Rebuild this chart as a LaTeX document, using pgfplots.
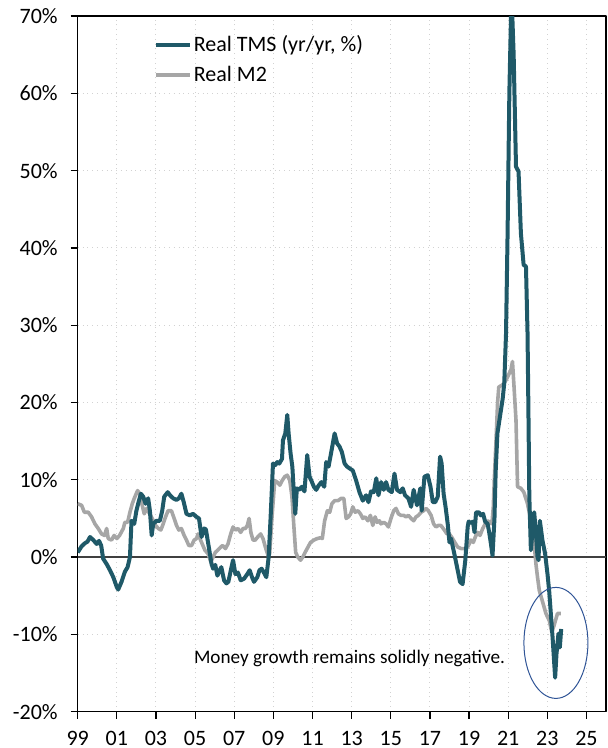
\documentclass[border=0pt]{standalone}
\usepackage{pgfplots}
\pgfplotsset{compat=1.18}
\usepackage{fontspec}
\setmainfont{Carlito}
\definecolor{tms}{RGB}{31,89,104}
\definecolor{mtwo}{RGB}{166,166,166}
\definecolor{ell}{RGB}{47,84,150}
\definecolor{gridc}{RGB}{210,210,210}
\begin{document}
\begin{tikzpicture}
\useasboundingbox (-38.85pt,-18.15pt) rectangle (264.65pt,355.85pt);
\begin{axis}[
  at={(0pt,0pt)}, anchor=south west,
  scale only axis, width=264.15pt, height=347.85pt,
  xmin=1999, xmax=2026, ymin=-20, ymax=70,
  xtick={1999,2001,...,2025},
  xticklabels={99,01,03,05,07,09,11,13,15,17,19,21,23,25},
  ytick={-20,-10,...,70},
  yticklabels={-20\%,-10\%,0\%,10\%,20\%,30\%,40\%,50\%,60\%,70\%},
  tick pos=left, tick align=outside,
  major tick length=3.5pt,
  tick style={black, line width=0.6pt},
  axis line style={black, line width=0.6pt},
  ticklabel style={font=\fontsize{11}{13}\selectfont},
  yticklabel style={xshift=-3pt},
  xticklabel style={inner sep=0pt, yshift=-6pt},
  grid=major,
  major grid style={gridc, dotted, line width=0.5pt},
  extra y ticks={0},
  extra y tick labels={},
  extra y tick style={grid=major, major grid style={black!75, solid, line width=0.8pt}, major tick length=0pt},
  legend cell align=left,
  legend style={draw=none, fill=none, at={(0.1435,0.975)}, anchor=north west,
    font=\fontsize{11}{13}\selectfont, inner sep=0pt, row sep=3.5pt,
    nodes={inner sep=1pt}},
  legend image code/.code={\draw[#1, line width=2pt] (0pt,0pt) -- (17pt,0pt);},
  line join=round,
]
\addplot[mtwo, line width=1.8pt, forget plot] coordinates {
(1999.0,6.9)(1999.2,6.7)(1999.34,5.8)(1999.54,5.8)(1999.71,5.2)(1999.88,4.3)
(2000.05,3.7)(2000.22,3.0)(2000.37,2.8)(2000.48,3.7)(2000.56,2.4)(2000.73,2.2)(2000.86,2.8)
(2001.0,2.4)(2001.14,2.8)(2001.33,3.7)(2001.41,4.5)(2001.55,4.5)(2001.67,5.8)(2001.79,6.9)(2001.89,7.6)
(2002.06,8.6)(2002.17,8.2)(2002.26,7.1)(2002.4,5.6)(2002.52,6.3)(2002.63,5.8)(2002.73,5.4)(2002.86,4.7)(2002.98,4.1)
(2003.12,3.7)(2003.25,3.5)(2003.37,4.3)(2003.49,5.2)(2003.62,6.0)(2003.79,6.0)(2003.93,5.0)
(2004.05,4.1)(2004.17,3.5)(2004.3,3.7)(2004.44,2.8)(2004.56,2.2)(2004.68,1.5)(2004.82,1.5)(2004.95,2.2)
(2005.07,2.4)(2005.15,3.0)(2005.33,1.9)(2005.5,0.9)(2005.67,0.4)(2005.8,-0.6)(2005.92,0.0)
(2006.03,0.6)(2006.16,0.9)(2006.31,1.3)(2006.41,1.5)(2006.55,1.1)(2006.68,1.7)(2006.82,3.0)(2006.94,3.9)
(2007.06,3.5)(2007.19,3.7)(2007.33,3.2)(2007.45,3.7)(2007.57,3.7)(2007.67,4.1)(2007.76,5.0)(2007.85,3.2)(2007.96,2.2)
(2008.07,2.2)(2008.2,2.6)(2008.35,3.0)(2008.47,2.4)(2008.59,1.3)(2008.73,0.2)(2008.81,0.4)(2008.93,5.2)
(2009.07,9.9)(2009.2,9.7)(2009.33,9.3)(2009.45,9.9)(2009.58,10.4)(2009.71,10.6)(2009.84,9.9)(2009.95,7.8)
(2010.05,3.9)(2010.14,0.6)(2010.25,0.0)(2010.39,-0.4)(2010.5,0.0)(2010.62,0.6)(2010.77,1.3)(2010.9,1.9)
(2011.07,2.2)(2011.24,2.4)(2011.41,2.5)(2011.5,2.4)(2011.62,4.7)(2011.76,6.0)(2011.88,5.8)(2011.99,6.9)
(2012.13,7.3)(2012.3,7.3)(2012.47,7.6)(2012.6,7.6)(2012.72,5.0)(2012.84,5.2)(2012.95,5.6)
(2013.06,6.5)(2013.18,5.8)(2013.32,6.0)(2013.45,5.6)(2013.57,5.0)(2013.69,5.2)(2013.83,4.7)(2013.96,5.4)
(2014.08,4.1)(2014.2,5.2)(2014.3,4.5)(2014.42,4.7)(2014.5,4.3)(2014.64,4.5)(2014.76,4.3)(2014.88,3.9)
(2015.01,5.0)(2015.15,6.0)(2015.27,6.3)(2015.39,5.6)(2015.52,5.4)(2015.66,5.4)(2015.78,5.2)(2015.9,5.4)
(2016.04,5.0)(2016.17,4.7)(2016.29,5.2)(2016.41,5.4)(2016.55,5.8)(2016.68,6.0)(2016.8,6.3)(2016.92,6.0)
(2017.06,5.4)(2017.19,4.3)(2017.31,3.9)(2017.43,4.1)(2017.56,4.1)(2017.74,3.5)(2017.87,3.0)(2017.99,3.0)
(2018.11,2.6)(2018.25,2.0)(2018.42,1.3)(2018.6,1.1)(2018.77,1.1)(2018.93,1.3)
(2019.1,2.2)(2019.22,1.9)(2019.32,2.6)(2019.44,3.2)(2019.56,2.8)(2019.7,3.7)(2019.83,4.3)(2019.95,4.7)
(2020.07,4.5)(2020.17,4.3)(2020.24,6.5)(2020.29,9.9)(2020.38,15.1)(2020.46,20.0)(2020.52,22.0)(2020.72,22.3)(2020.89,22.9)
(2021.14,24.2)(2021.22,25.3)(2021.3,22.0)(2021.4,17.7)(2021.48,9.1)(2021.65,8.9)(2021.8,8.4)(2021.99,6.9)
(2022.16,4.7)(2022.33,1.7)(2022.42,-0.9)(2022.5,-2.6)(2022.59,-4.3)(2022.76,-5.8)(2022.93,-7.3)
(2023.1,-8.2)(2023.23,-9.7)(2023.35,-8.8)(2023.52,-7.3)(2023.69,-7.3)
};
\addplot[tms, line width=2pt] coordinates {
(1999.0,0.6)(1999.2,1.4)(1999.37,1.8)(1999.5,2.0)(1999.63,2.6)(1999.8,2.2)(1999.97,1.7)
(2000.09,2.1)(2000.2,1.5)(2000.3,-0.2)(2000.48,-0.9)(2000.65,-1.7)(2000.82,-2.6)
(2001.0,-3.9)(2001.07,-4.2)(2001.24,-3.2)(2001.41,-1.9)(2001.55,-1.3)(2001.67,0.0)(2001.75,4.7)(2001.89,4.3)
(2002.0,6.0)(2002.13,7.3)(2002.23,8.2)(2002.35,7.8)(2002.47,6.9)(2002.6,7.6)(2002.69,6.0)(2002.78,2.8)(2002.86,4.3)
(2003.03,4.7)(2003.2,4.7)(2003.32,6.0)(2003.42,7.8)(2003.6,8.4)(2003.72,8.0)(2003.88,7.6)
(2004.05,7.4)(2004.17,7.6)(2004.3,8.2)(2004.42,7.1)(2004.56,5.6)(2004.73,5.4)(2004.9,5.6)
(2005.07,5.2)(2005.2,5.0)(2005.33,2.6)(2005.46,3.7)(2005.55,3.6)(2005.7,1.3)(2005.84,-0.9)(2005.92,-1.5)
(2006.03,-1.0)(2006.14,-2.4)(2006.26,-1.7)(2006.34,-1.3)(2006.48,-3.0)(2006.6,-3.4)(2006.7,-3.2)(2006.86,-1.3)(2006.94,-0.4)
(2007.06,-2.2)(2007.19,-2.0)(2007.33,-3.0)(2007.5,-2.8)(2007.67,-2.2)(2007.79,-1.7)(2007.91,-2.6)
(2008.01,-3.2)(2008.18,-2.6)(2008.29,-1.7)(2008.4,-1.5)(2008.56,-2.2)(2008.64,-2.6)(2008.76,0.0)(2008.86,5.2)(2008.98,12.1)
(2009.1,11.9)(2009.2,12.3)(2009.3,12.1)(2009.44,12.7)(2009.49,15.1)(2009.61,16.0)(2009.71,18.4)(2009.78,16.0)(2009.88,13.4)(2009.97,11.7)
(2010.05,8.2)(2010.12,5.6)(2010.2,8.9)(2010.33,8.7)(2010.45,9.1)(2010.59,8.5)(2010.73,13.2)(2010.85,10.4)(2010.94,9.9)
(2011.07,9.1)(2011.19,8.7)(2011.3,9.2)(2011.45,9.7)(2011.6,9.1)(2011.7,12.3)(2011.82,11.7)(2011.96,13.6)
(2012.13,16.0)(2012.26,14.7)(2012.38,14.3)(2012.5,13.6)(2012.64,12.1)(2012.77,11.7)(2012.94,11.4)
(2013.06,11.2)(2013.23,9.9)(2013.4,8.4)(2013.57,7.3)(2013.74,8.0)(2013.86,7.1)(2013.99,8.5)
(2014.13,8.4)(2014.26,10.2)(2014.37,8.0)(2014.51,9.7)(2014.64,8.7)(2014.76,9.7)(2014.88,8.7)
(2015.05,8.4)(2015.19,10.8)(2015.32,8.7)(2015.49,8.4)(2015.61,8.9)(2015.73,8.0)(2015.9,7.6)
(2016.04,6.5)(2016.17,8.7)(2016.34,6.7)(2016.51,8.9)(2016.58,6.0)(2016.72,10.4)(2016.89,10.6)
(2017.03,9.1)(2017.15,7.1)(2017.27,7.1)(2017.4,7.8)(2017.52,13.0)(2017.6,12.1)(2017.7,8.2)(2017.8,6.5)(2017.91,4.3)
(2018.0,1.9)(2018.08,2.4)(2018.25,0.4)(2018.42,-1.7)(2018.54,-3.2)(2018.67,-3.5)(2018.81,-0.4)(2018.93,3.9)(2018.98,4.6)
(2019.1,4.4)(2019.2,4.6)(2019.28,3.2)(2019.36,5.8)(2019.5,5.8)(2019.6,5.4)(2019.72,5.6)(2019.82,4.6)(2019.95,4.3)
(2020.03,3.2)(2020.12,1.7)(2020.2,0.2)(2020.3,5.0)(2020.36,11.0)(2020.45,16.0)(2020.6,18.5)(2020.72,20.5)(2020.8,22.5)(2020.89,28.9)(2020.97,41.9)
(2021.06,60.0)(2021.17,73.0)(2021.28,65.0)(2021.4,50.5)(2021.53,49.9)(2021.65,41.9)(2021.79,37.8)(2021.91,37.6)(2021.99,28.9)
(2022.04,17.7)(2022.08,8.0)(2022.16,0.9)(2022.33,5.8)(2022.42,3.0)(2022.5,0.0)(2022.55,-0.4)(2022.62,4.7)(2022.75,2.2)(2022.89,0.4)
(2023.01,-2.2)(2023.1,-4.5)(2023.18,-7.3)(2023.27,-10.4)(2023.4,-15.6)(2023.47,-12.5)(2023.57,-9.9)(2023.64,-11.7)(2023.71,-9.3)
};
\addlegendentry{Real TMS (yr/yr, \%)}
\addlegendimage{mtwo, line width=1.8pt}
\addlegendentry{Real M2}
\draw[ell, line width=0.5pt] (axis cs:2023.44,-11.1) ellipse [x radius=16pt, y radius=27.75pt];
\node[font=\fontsize{9.6}{11}\selectfont, inner sep=0pt] at (axis cs:2012.89,-13.1) {Money growth remains solidly negative.};
\end{axis}
\end{tikzpicture}
\end{document}
